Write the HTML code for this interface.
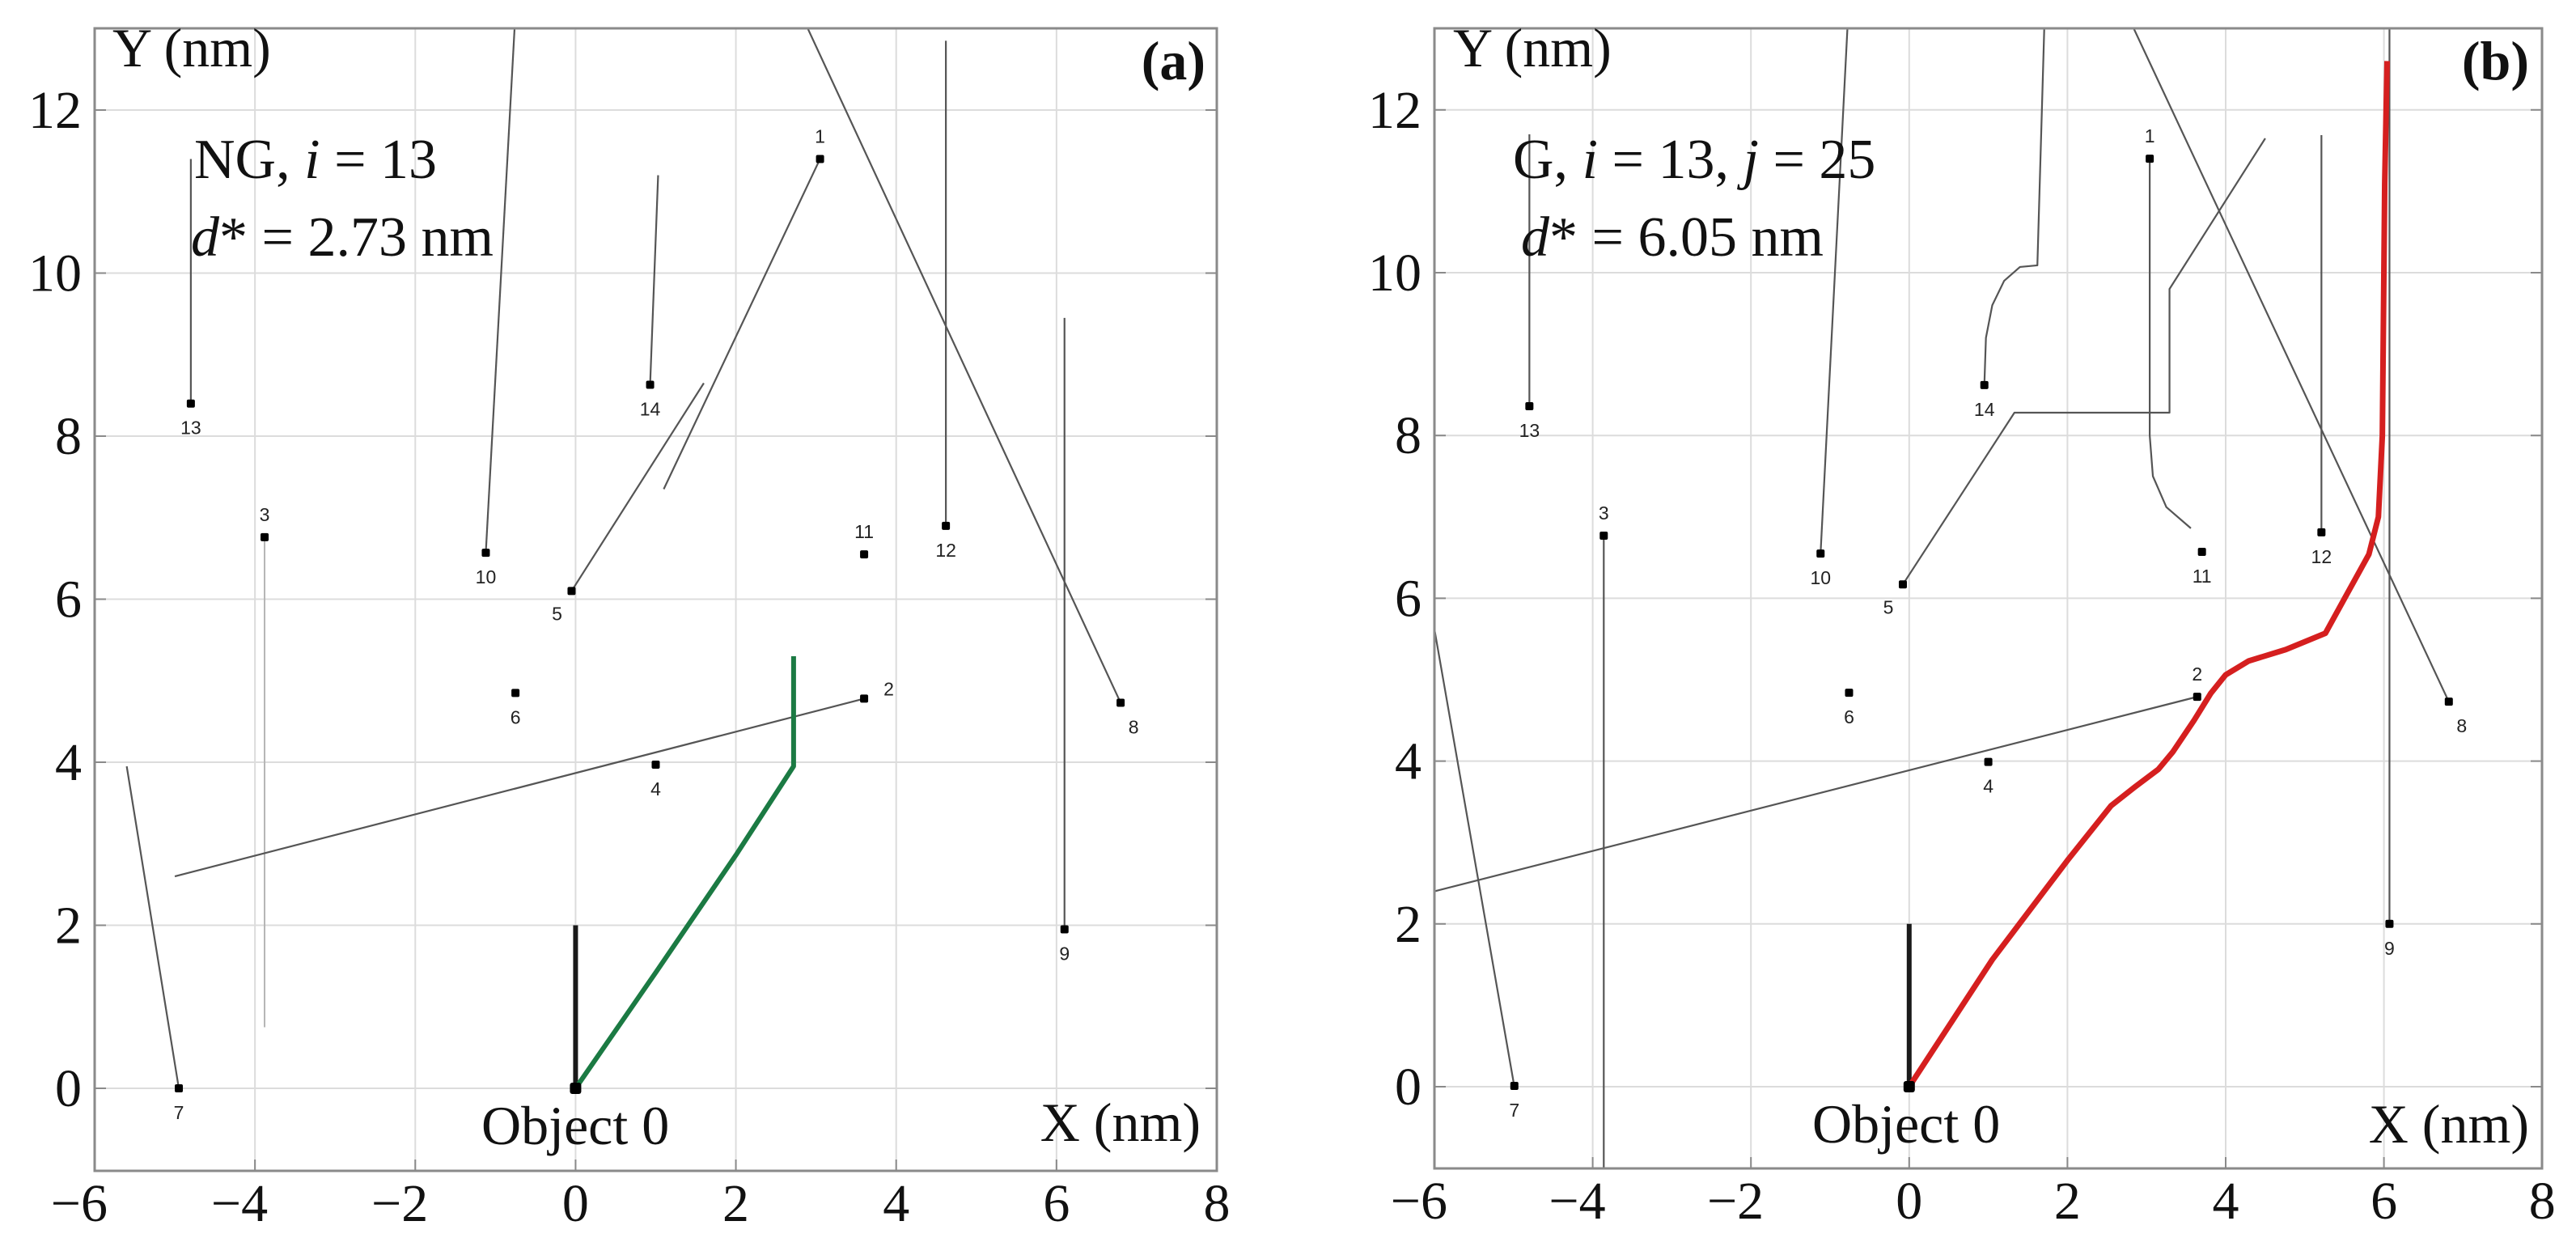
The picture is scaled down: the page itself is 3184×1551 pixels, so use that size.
<!DOCTYPE html>
<html><head><meta charset="utf-8">
<style>
html,body{margin:0;padding:0;background:#fff;}
svg{display:block;}
.tick{font-family:"Liberation Serif",serif;font-size:66px;fill:#111;}
.ann{font-family:"Liberation Serif",serif;font-size:68px;fill:#111;}
.big{font-family:"Liberation Serif",serif;font-size:70px;fill:#111;}
.num{font-family:"Liberation Sans",sans-serif;font-size:23px;fill:#222;}
</style></head>
<body>
<svg id="chart" width="3184" height="1551" viewBox="0 0 3184 1551" xmlns="http://www.w3.org/2000/svg">
<defs>
<clipPath id="clipA"><rect x="117" y="35" width="1387" height="1412"/></clipPath>
<clipPath id="clipB"><rect x="1773" y="35" width="1369" height="1409"/></clipPath>
</defs>
<g id="panelA"></g>
<g id="panelB"></g>
</svg>
<script>
// Axis ticks
const xTicks = [-6,-4,-2,0,2,4,6,8];
const yTicks = [0,2,4,6,8,10,12];

// Panel (a) data
const aIds = ['1','2','3','4','5','6','7','8','9','10','11','12','13','14'];
const aX = [3.05,3.6,-3.88,1.0,-0.05,-0.75,-4.95,6.8,6.1,-1.12,3.6,4.62,-4.8,0.93];
const aY = [11.4,4.78,6.76,3.97,6.1,4.85,0,4.73,1.95,6.57,6.55,6.9,8.4,8.63];
const aLabelPos = ['a','r','a','b','bl','b','b','br','b','b','a','b','b','b'];
const aLines = [
 [[1.1,7.35],[3.05,11.4]],
 [[2.85,13.1],[6.8,4.73]],
 [[-5.0,2.6],[3.6,4.78]],
 [[-0.05,6.1],[1.6,8.65]],
 [[-4.95,0],[-5.6,3.95]],
 [[6.1,1.95],[6.1,9.45]],
 [[-1.12,6.57],[-0.75,13.2]],
 [[4.62,6.9],[4.62,12.85]],
 [[-4.8,8.4],[-4.8,11.4]],
 [[0.93,8.63],[1.03,11.2]]
];
const aLightLines = [ [[-3.88,6.76],[-3.88,0.75]] ];
const aPathX = [0,1,2,2.72,2.72];
const aPathY = [0,1.42,2.86,3.95,5.3];

// Panel (b) data
const bIds = ['1','2','3','4','5','6','7','8','9','10','11','12','13','14'];
const bX = [3.04,3.64,-3.86,1.0,-0.08,-0.76,-4.99,6.82,6.07,-1.12,3.7,5.21,-4.8,0.95];
const bY = [11.4,4.79,6.77,3.99,6.17,4.84,0.01,4.73,2.0,6.55,6.57,6.81,8.36,8.62];
const bLabelPos = ['a','a','a','b','bl','b','b','br','b','b','b','b','b','b'];
const bLines = [
 [[3.04,11.4],[3.04,8.0],[3.08,7.5],[3.25,7.12],[3.56,6.86]],
 [[2.79,13.1],[6.82,4.73]],
 [[5.21,6.81],[5.21,11.69]],
 [[-0.08,6.17],[1.33,8.28],[3.29,8.28],[3.29,9.8],[4.5,11.65]],
 [[0.95,8.62],[0.97,9.2],[1.05,9.6],[1.2,9.9],[1.4,10.07],[1.62,10.09],[1.71,13.1]],
 [[6.07,2.0],[6.07,13.1]],
 [[-3.86,6.77],[-3.86,-1.1]],
 [[-4.99,0],[-6,5.62]],
 [[-6,2.4],[3.64,4.79]],
 [[-1.12,6.55],[-0.77,13.2]],
 [[-4.8,8.36],[-4.8,11.7]]
];
const bLightLines = [];
const bPathX = [0,1.05,2,2.55,2.85,3.15,3.33,3.6,3.81,4.0,4.29,4.76,5.26,5.52,5.81,5.93,5.98,6.01,6.04];
const bPathY = [0,1.56,2.78,3.45,3.68,3.9,4.11,4.5,4.83,5.06,5.23,5.37,5.57,6.03,6.54,7.0,8.0,11.1,12.6];

const NS = 'http://www.w3.org/2000/svg';
function mk(tag, attrs, parent){
  const e = document.createElementNS(NS, tag);
  for (const k in attrs) e.setAttribute(k, attrs[k]);
  parent.appendChild(e);
  return e;
}

function drawPanel(g, cfg){
  const L=cfg.left, R=cfg.right, T=cfg.top, B=cfg.bottom;
  const sx = x => L + (x+6)*cfg.kx;
  const sy = y => cfg.y0 - y*cfg.ky;
  xTicks.forEach(t=>{
    const l = mk('line',{x1:sx(t),x2:sx(t),y1:T,y2:B,stroke:'#dcdcdc','stroke-width':2},g);
    
    
  });
  yTicks.forEach(t=>{
    const l = mk('line',{x1:L,x2:R,y1:sy(t),y2:sy(t),stroke:'#dcdcdc','stroke-width':2},g);
    
    
  });
  const c = mk('g',{'clip-path':'url(#'+cfg.clip+')'},g);
  
  
  cfg.light.forEach(seg=>{
    const p = mk('polyline',{points:seg.map(q=>sx(q[0])+','+sy(q[1])).join(' '),fill:'none',stroke:'#b5b5b5','stroke-width':2},c);
    
    
  });
  cfg.lines.forEach(seg=>{
    const p = mk('polyline',{points:seg.map(q=>sx(q[0])+','+sy(q[1])).join(' '),fill:'none',stroke:'#555','stroke-width':2.2,'stroke-linejoin':'round'},c);
    
    
  });
  const o = mk('line',{x1:sx(0),x2:sx(0),y1:sy(0),y2:sy(2),stroke:'#1a1a1a','stroke-width':6},c);
  
  
  const pts=[]; for(let i=0;i<cfg.px.length;i++) pts.push(sx(cfg.px[i])+','+sy(cfg.py[i]));
  const path = mk('polyline',{points:pts.join(' '),fill:'none',stroke:cfg.color,'stroke-width':cfg.pw,'stroke-linejoin':'round','stroke-linecap':'butt'},c);
  
  
  const od = mk('rect',{x:sx(0)-7,y:sy(0)-7,width:14,height:14,rx:3,fill:'#000'},c);
  
  
  cfg.ids.forEach((id,i)=>{
    const X=sx(cfg.xs[i]), Y=sy(cfg.ys[i]);
    const r = mk('rect',{x:X-5,y:Y-5,width:10,height:10,rx:2,fill:'#000'},c);
    
    
    const pos = cfg.lp[i];
    let dx=0, dy=38, anc='middle';
    if(pos==='a'){dy=-20;}
    else if(pos==='r'){dx=24;dy=-4;anc='start';}
    else if(pos==='bl'){dx=-18;dy=36;}
    else if(pos==='br'){dx=16;dy=38;}
    const t = mk('text',{x:X+dx,y:Y+dy,'text-anchor':anc,class:'num'},c);
    t.textContent=id;
    
    
  });
  const box = mk('rect',{x:L,y:T,width:R-L,height:B-T,fill:'none',stroke:'#8a8a8a','stroke-width':3},g);
  
  
  xTicks.forEach(t=>{
    const tk = mk('line',{x1:sx(t),x2:sx(t),y1:B,y2:B-14,stroke:'#8a8a8a','stroke-width':2},g);
    
    
    const lbl = mk('text',{x:sx(t)+(t<0?16:0),y:B+62,'text-anchor':t<0?'end':'middle',class:'tick'},g);
    lbl.textContent = t<0 ? '\u2212'+Math.abs(t) : String(t);
    
    
  });
  yTicks.forEach(t=>{
    const tk = mk('line',{x1:L,x2:L+14,y1:sy(t),y2:sy(t),stroke:'#8a8a8a','stroke-width':2},g);
    
    
    const tk2 = mk('line',{x1:R,x2:R-14,y1:sy(t),y2:sy(t),stroke:'#8a8a8a','stroke-width':2},g);
    
    
    const lbl = mk('text',{x:L-16,y:sy(t)+22,'text-anchor':'end',class:'tick'},g);
    lbl.textContent = String(t);
    
    
  });
}

const gA = document.getElementById('panelA');
const gB = document.getElementById('panelB');
drawPanel(gA,{left:117,right:1504,top:35,bottom:1447,kx:99.07,y0:1345,ky:100.75,clip:'clipA',
  ids:aIds,xs:aX,ys:aY,lp:aLabelPos,lines:aLines,light:aLightLines,px:aPathX,py:aPathY,color:'#1b7a43',pw:6,pathName:'trajectory-ng'});
drawPanel(gB,{left:1773,right:3142,top:35,bottom:1444,kx:97.8,y0:1343,ky:100.6,clip:'clipB',
  ids:bIds,xs:bX,ys:bY,lp:bLabelPos,lines:bLines,light:bLightLines,px:bPathX,py:bPathY,color:'#d51f1f',pw:7,pathName:'trajectory-g'});
</script>
<svg style="position:absolute;left:0;top:0" width="3184" height="1551">
  <text class="ann" x="139" y="82">Y (nm)</text>
  <text class="ann" x="1490" y="98" text-anchor="end" font-weight="bold">(a)</text>
  <text class="big" x="240" y="220">NG, <tspan font-style="italic">i</tspan> = 13</text>
  <text class="big" x="236" y="316"><tspan font-style="italic">d</tspan>* = 2.73 nm</text>
  <text class="ann" x="595" y="1414" font-size="72">Object 0</text>
  <text class="ann" x="1484" y="1410" text-anchor="end">X (nm)</text>

  <text class="ann" x="1796" y="82">Y (nm)</text>
  <text class="ann" x="3126" y="98" text-anchor="end" font-weight="bold">(b)</text>
  <text class="big" x="1870" y="220">G, <tspan font-style="italic">i</tspan> = 13, <tspan font-style="italic">j</tspan> = 25</text>
  <text class="big" x="1880" y="316"><tspan font-style="italic">d</tspan>* = 6.05 nm</text>
  <text class="ann" x="2240" y="1412" font-size="72">Object 0</text>
  <text class="ann" x="3126" y="1412" text-anchor="end">X (nm)</text>
</svg>
</body></html>
